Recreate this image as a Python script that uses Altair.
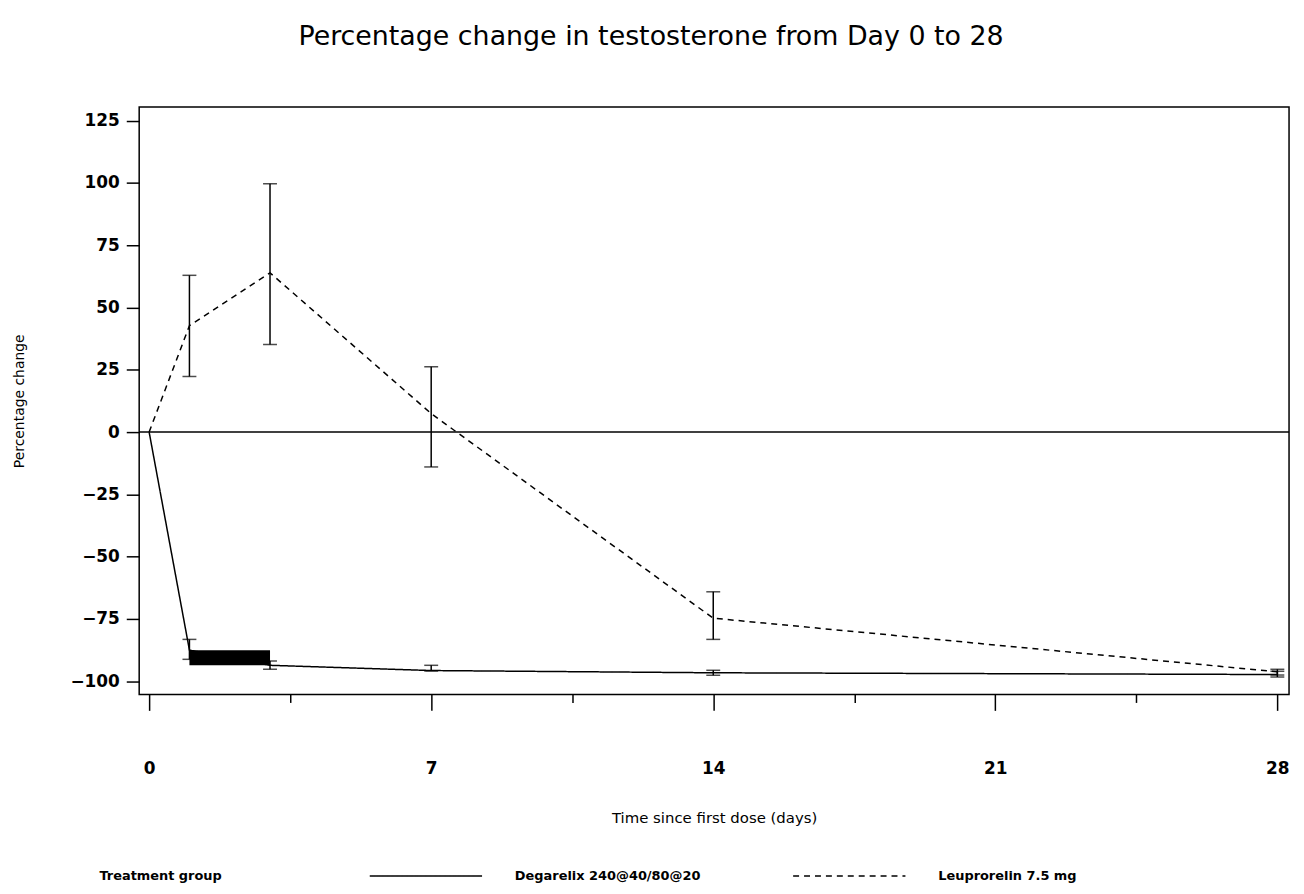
import altair as alt
import pandas as pd

# ---- data ----
days = [0, 1, 3, 7, 14, 28]
groups = ["Degarelix 240@40/80@20", "Leuprorelin 7.5 mg"]

degarelix_mean = [0, -87.5, -93.6, -95.7, -96.6, -97.3]
degarelix_lo = [None, -91.2, -95.2, -95.9, -97.6, -98.3]
degarelix_hi = [None, -83.2, -91.9, -93.6, -95.6, -96.0]

leuprorelin_mean = [0, 42.7, 63.9, 7.4, -74.7, -96.2]
leuprorelin_lo = [None, 22.3, 35.1, -14.0, -83.2, -97.5]
leuprorelin_hi = [None, 62.9, 99.6, 26.2, -64.1, -95.2]

# dense overplotted block of Degarelix values between day 1 and day 3
block_day_start = [1]
block_day_end = [3]
block_lo = [-93.6]
block_hi = [-87.6]

x_tick_values = [0, 3.5, 7, 10.5, 14, 17.5, 21, 24.5, 28]
y_tick_values = [-100, -87.5, -75, -62.5, -50, -37.5, -25, -12.5, 0,
                 12.5, 25, 37.5, 50, 62.5, 75, 87.5, 100, 112.5, 125]
reference_value = [0]

# ---- tables ----
rows = []
for g, means, los, his in [(groups[0], degarelix_mean, degarelix_lo, degarelix_hi),
                           (groups[1], leuprorelin_mean, leuprorelin_lo, leuprorelin_hi)]:
    for d, m, lo, hi in zip(days, means, los, his):
        rows.append({"group": g, "day": d, "mean": m, "lo": lo, "hi": hi})
df = pd.DataFrame(rows)
err = df.dropna(subset=["lo", "hi"])
caps = pd.concat([
    err[["group", "day", "lo"]].rename(columns={"lo": "v"}),
    err[["group", "day", "hi"]].rename(columns={"hi": "v"}),
])
block = pd.DataFrame({"d0": block_day_start, "d1": block_day_end,
                      "lo": block_lo, "hi": block_hi})
ref = pd.DataFrame({"v": reference_value})

FONT = "DejaVu Sans"
x_scale = alt.Scale(domain=[-0.247, 28.29], nice=False, zero=False)
y_scale = alt.Scale(domain=[-105.3, 130.4], nice=False, zero=False)

x_axis = alt.Axis(
    values=x_tick_values,
    labelExpr="datum.value % 7 === 0 ? datum.label : ''",
    title="Time since first dose (days)",
    grid=False, domain=False,
    tickColor="black", tickWidth=1.5,
    tickSize={"condition": {"test": "datum.value % 7 !== 0", "value": 8}, "value": 16},
    labelFont=FONT, labelFontWeight="bold", labelFontSize=17, labelColor="black",
    labelPadding=51,
    titleFont=FONT, titleFontWeight="normal", titleFontSize=15, titleColor="black",
    titlePadding=34,
)
y_axis = alt.Axis(
    values=y_tick_values,
    labelExpr="datum.value % 25 === 0 ? datum.label : ''",
    title="Percentage change",
    grid=False, domain=False,
    tickColor="black", tickWidth=1.5,
    tickSize={"condition": {"test": "datum.value % 25 !== 0", "value": 7}, "value": 13},
    labelFont=FONT, labelFontWeight="bold", labelFontSize=17, labelColor="black",
    labelPadding=7,
    titleFont=FONT, titleFontWeight="normal", titleFontSize=14, titleColor="black",
    titlePadding=44,
)

base = alt.Chart(df)

zero_line = alt.Chart(ref).mark_rule(color="black", strokeWidth=1.5).encode(
    y=alt.Y("v:Q", scale=y_scale, axis=y_axis)
)

lines = base.mark_line(color="black", strokeWidth=1.5).encode(
    x=alt.X("day:Q", scale=x_scale, axis=x_axis),
    y=alt.Y("mean:Q", scale=y_scale, axis=y_axis),
    strokeDash=alt.StrokeDash(
        "group:N",
        scale=alt.Scale(domain=groups, range=[[1, 0], [6, 5]]),
        legend=alt.Legend(
            title="Treatment group",
            orient="none", legendX=-40, legendY=716,
            direction="horizontal", titleOrient="left",
            titleAnchor="end", titleBaseline="bottom",
            titlePadding=147, titleFont=FONT, titleFontSize=13,
            titleFontWeight="bold", titleColor="black",
            labelFont=FONT, labelFontSize=13, labelFontWeight="bold",
            labelColor="black", labelOffset=32, labelLimit=400,
            symbolType="stroke", symbolSize=12769, symbolStrokeWidth=1.5,
            symbolStrokeColor="black", columnPadding=90,
        ),
    ),
)

bars = alt.Chart(err).mark_rule(color="black", strokeWidth=1.5).encode(
    x=alt.X("day:Q", scale=x_scale),
    y=alt.Y("lo:Q", scale=y_scale),
    y2="hi:Q",
)

cap_marks = alt.Chart(caps).mark_tick(color="black", orient="horizontal",
                                      size=14, thickness=1.5).encode(
    x=alt.X("day:Q", scale=x_scale),
    y=alt.Y("v:Q", scale=y_scale),
)

block_mark = alt.Chart(block).mark_rect(color="black").encode(
    x=alt.X("d0:Q", scale=x_scale),
    x2="d1:Q",
    y=alt.Y("lo:Q", scale=y_scale),
    y2="hi:Q",
)

chart = alt.layer(zero_line, block_mark, lines, bars, cap_marks).properties(
    width=1157, height=591,
    autosize=alt.AutoSizeParams(type="none"),
    padding={"left": 132, "top": 97, "right": 7, "bottom": 190},
    background="white",
    title=alt.TitleParams(
        "Percentage change in testosterone from Day 0 to 28",
        font=FONT, fontSize=27, fontWeight="normal", color="black",
        anchor="middle", frame="bounds", offset=56,
    ),
).configure_view(stroke="black", strokeWidth=1.5)

chart.save("out.html", embed_options={"renderer": "svg", "actions": False})
